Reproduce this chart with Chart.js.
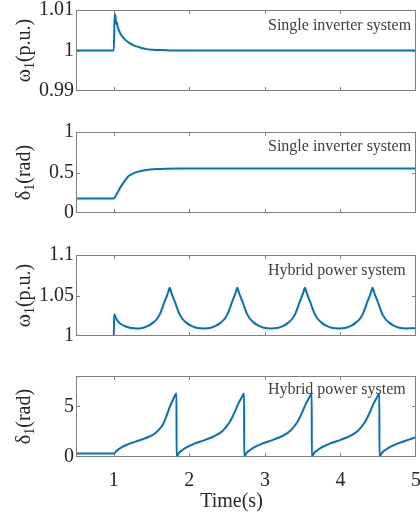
<!DOCTYPE html>
<html>
<head>
<meta charset="utf-8">
<script src="https://cdn.jsdelivr.net/npm/chart.js@4/dist/chart.umd.min.js"></script>
<style>
  html, body { margin: 0; padding: 0; background: #ffffff; }
  #wrap { position: relative; width: 420px; height: 518px; background: #ffffff; }
  #wrap canvas { position: absolute; left: 0; top: 0; }
</style>
</head>
<body>
<div id="wrap">
  <canvas id="c1" width="420" height="518"></canvas>
  <canvas id="c2" width="420" height="518"></canvas>
  <canvas id="c3" width="420" height="518"></canvas>
  <canvas id="c4" width="420" height="518"></canvas>
</div>
<script>
// ---------------- data ----------------
const xTicks = [1, 2, 3, 4, 5];
const xTickLabels = ['1', '2', '3', '4', '5'];

// Panel 1: single inverter system, omega_1 (p.u.)
const tOmegaSingle = [0.5, 1.0, 1.012, 1.022, 1.03, 1.04, 1.05, 1.07, 1.09, 1.12, 1.16, 1.21, 1.27, 1.34, 1.42, 1.52, 1.65, 1.8, 5.0];
const omegaSingle  = [1.0, 1.0, 1.0090, 1.0085, 1.0066, 1.0070, 1.0060, 1.0049, 1.0041, 1.0033, 1.0025, 1.0018, 1.0012, 1.0008, 1.0004, 1.0002, 1.0001, 1.0, 1.0];
const yTicks1 = [0.99, 1, 1.01];
const yTickLabels1 = ['0.99', '1', '1.01'];

// Panel 2: single inverter system, delta_1 (rad)
const tDeltaSingle = [0.5, 1.0, 1.03, 1.06, 1.09, 1.126, 1.16, 1.19, 1.23, 1.26, 1.31, 1.39, 1.48, 1.57, 1.7, 1.9, 5.0];
const deltaSingle  = [0.18, 0.18, 0.22, 0.27, 0.32, 0.37, 0.415, 0.45, 0.475, 0.49, 0.508, 0.525, 0.536, 0.542, 0.546, 0.548, 0.548];
const yTicks2 = [0, 0.5, 1];
const yTickLabels2 = ['0', '0.5', '1'];

// Panel 3: hybrid power system, omega_1 (p.u.)
const tOmegaHybrid = [
  0.5, 0.995, 1.0, 1.005, 1.02, 1.04, 1.07, 1.1, 1.15, 1.2, 1.27, 1.34,
  1.4, 1.46, 1.52, 1.57, 1.61, 1.64, 1.67, 1.70, 1.72, 1.74, 1.76, 1.78, 1.81, 1.84, 1.87, 1.91, 1.96, 2.02, 2.08, 2.14, 2.19,
  2.235, 2.295, 2.355, 2.415, 2.465, 2.505, 2.535, 2.565, 2.595, 2.615, 2.635, 2.655, 2.675, 2.705, 2.735, 2.765, 2.805, 2.855, 2.915, 2.975, 3.035, 3.08,
  3.13, 3.19, 3.25, 3.31, 3.36, 3.40, 3.43, 3.46, 3.49, 3.51, 3.53, 3.55, 3.57, 3.60, 3.63, 3.66, 3.70, 3.75, 3.81, 3.87, 3.93, 3.975,
  4.025, 4.085, 4.145, 4.205, 4.255, 4.295, 4.325, 4.355, 4.385, 4.405, 4.425, 4.445, 4.465, 4.495, 4.525, 4.555, 4.595, 4.645, 4.705, 4.765, 4.825, 4.87, 4.93, 5.0
];
const omegaHybrid = [
  1.0, 1.0, 1.0, 1.027, 1.024, 1.020, 1.0165, 1.0145, 1.012, 1.0106, 1.0097, 1.0094,
  1.0105, 1.0128, 1.0165, 1.021, 1.027, 1.034, 1.042, 1.049, 1.054, 1.0596, 1.054, 1.049, 1.042, 1.034, 1.027, 1.021, 1.0165, 1.0128, 1.0105, 1.0095, 1.0094,
  1.0095, 1.0105, 1.0128, 1.0165, 1.021, 1.027, 1.034, 1.042, 1.049, 1.054, 1.0596, 1.054, 1.049, 1.042, 1.034, 1.027, 1.021, 1.0165, 1.0128, 1.0105, 1.0095, 1.0094,
  1.0095, 1.0105, 1.0128, 1.0165, 1.021, 1.027, 1.034, 1.042, 1.049, 1.054, 1.0596, 1.054, 1.049, 1.042, 1.034, 1.027, 1.021, 1.0165, 1.0128, 1.0105, 1.0095, 1.0094,
  1.0095, 1.0105, 1.0128, 1.0165, 1.021, 1.027, 1.034, 1.042, 1.049, 1.054, 1.0596, 1.054, 1.049, 1.042, 1.034, 1.027, 1.021, 1.0165, 1.0128, 1.0105, 1.0095, 1.0094, 1.0095, 1.0098
];
const yTicks3 = [1, 1.05, 1.1];
const yTickLabels3 = ['1', '1.05', '1.1'];

// Panel 4: hybrid power system, delta_1 (rad)
const tDeltaHybrid = [
  0.5, 1.0, 1.03, 1.07, 1.12, 1.18, 1.25, 1.32, 1.39, 1.45, 1.51, 1.56, 1.60, 1.65, 1.69, 1.735, 1.78, 1.83,
  1.831, 1.86, 1.90, 1.95, 2.0, 2.07, 2.14, 2.22, 2.30, 2.37, 2.43, 2.48, 2.53, 2.57, 2.61, 2.65, 2.69, 2.725,
  2.726, 2.755, 2.795, 2.845, 2.895, 2.965, 3.035, 3.115, 3.195, 3.265, 3.325, 3.375, 3.425, 3.465, 3.505, 3.545, 3.585, 3.62,
  3.621, 3.65, 3.69, 3.74, 3.79, 3.86, 3.93, 4.01, 4.09, 4.16, 4.22, 4.27, 4.32, 4.36, 4.40, 4.44, 4.48, 4.515,
  4.516, 4.545, 4.585, 4.635, 4.685, 4.755, 4.825, 4.905, 5.0
];
const deltaHybrid = [
  0.35, 0.35, 0.55, 0.8, 1.02, 1.22, 1.42, 1.6, 1.78, 1.95, 2.17, 2.42, 2.72, 3.2, 3.9, 4.83, 5.6, 6.28,
  0, 0.38, 0.65, 0.9, 1.1, 1.32, 1.5, 1.72, 1.95, 2.2, 2.52, 2.9, 3.4, 3.95, 4.6, 5.3, 5.85, 6.28,
  0, 0.38, 0.65, 0.9, 1.1, 1.32, 1.5, 1.72, 1.95, 2.2, 2.52, 2.9, 3.4, 3.95, 4.6, 5.3, 5.85, 6.28,
  0, 0.38, 0.65, 0.9, 1.1, 1.32, 1.5, 1.72, 1.95, 2.2, 2.52, 2.9, 3.4, 3.95, 4.6, 5.3, 5.85, 6.28,
  0, 0.38, 0.65, 0.9, 1.1, 1.32, 1.5, 1.72, 1.95
];
const yTicks4 = [0, 5];
const yTickLabels4 = ['0', '5'];

const notes = ['Single inverter system', 'Single inverter system', 'Hybrid power system', 'Hybrid power system'];
const yTitles = [
  [['ω', false], ['1', true], ['(p.u.)', false]],
  [['δ', false], ['1', true], ['(rad)', false]],
  [['ω', false], ['1', true], ['(p.u.)', false]],
  [['δ', false], ['1', true], ['(rad)', false]]
];
const xTitle = 'Time(s)';

// ---------------- styling / layout ----------------
const FONT = "'Liberation Serif', 'Times New Roman', Times, serif";
const LINE = '#0072BD';
const FRAME = '#808080';
const TEXT = '#262626';
const W = 420, H = 518;
const LEFT = 76, RIGHT_PAD = 4, XAXIS_H = 40;

const panels = [
  { id: 'c1', top: 10, bottom: 91,  t: tOmegaSingle, v: omegaSingle, ymin: 0.99, ymax: 1.01, yt: yTicks1, yl: yTickLabels1, noteY: 30,  showX: false },
  { id: 'c2', top: 132, bottom: 213, t: tDeltaSingle, v: deltaSingle, ymin: 0, ymax: 1, yt: yTicks2, yl: yTickLabels2, noteY: 151, showX: false },
  { id: 'c3', top: 255, bottom: 336, t: tOmegaHybrid, v: omegaHybrid, ymin: 1, ymax: 1.1, yt: yTicks3, yl: yTickLabels3, noteY: 275, showX: false },
  { id: 'c4', top: 376, bottom: 457, t: tDeltaHybrid, v: deltaHybrid, ymin: 0, ymax: 8, yt: yTicks4, yl: yTickLabels4, noteY: 394, showX: true }
];

const framePlugin = {
  id: 'frame',
  afterDraw(chart, args, opts) {
    const ctx = chart.ctx;
    const a = chart.chartArea;
    const x = chart.scales.x, y = chart.scales.y;
    ctx.save();
    ctx.strokeStyle = FRAME;
    ctx.lineWidth = 1;
    ctx.strokeRect(a.left + 0.5, a.top + 0.5, a.right - a.left - 1, a.bottom - a.top - 1);
    ctx.beginPath();
    x.ticks.forEach(tk => {
      const px = Math.round(x.getPixelForValue(tk.value)) + 0.5;
      if (px <= a.left + 2 || px >= a.right - 2) return;
      ctx.moveTo(px, a.bottom); ctx.lineTo(px, a.bottom - 4);
      ctx.moveTo(px, a.top); ctx.lineTo(px, a.top + 4);
    });
    y.ticks.forEach(tk => {
      const py = Math.round(y.getPixelForValue(tk.value)) + 0.5;
      if (py <= a.top + 2 || py >= a.bottom - 2) return;
      ctx.moveTo(a.left, py); ctx.lineTo(a.left + 4, py);
      ctx.moveTo(a.right, py); ctx.lineTo(a.right - 4, py);
    });
    ctx.stroke();

    // annotation text
    ctx.fillStyle = '#404040';
    ctx.font = '16px ' + FONT;
    ctx.textAlign = 'left';
    ctx.textBaseline = 'alphabetic';
    ctx.fillText(opts.note, 268, opts.noteY);

    // rotated y title with subscript
    const parts = opts.ytitle;
    const big = '20px ' + FONT, small = '14px ' + FONT;
    let total = 0;
    const widths = parts.map(p => { ctx.font = p[1] ? small : big; const w = ctx.measureText(p[0]).width; total += w; return w; });
    const cy = (a.top + a.bottom) / 2;
    ctx.translate(30, cy);
    ctx.rotate(-Math.PI / 2);
    ctx.fillStyle = TEXT;
    let cx = -total / 2;
    parts.forEach((p, i) => {
      ctx.font = p[1] ? small : big;
      ctx.fillText(p[0], cx, p[1] ? 4 : 0);
      cx += widths[i];
    });
    ctx.setTransform(1, 0, 0, 1, 0, 0);

    if (opts.xtitle) {
      ctx.font = '20px ' + FONT;
      ctx.textAlign = 'center';
      ctx.fillStyle = TEXT;
      ctx.fillText(opts.xtitle, 231.5, 507);
    }
    ctx.restore();
  }
};

panels.forEach((p, i) => {
  const data = p.t.map((t, k) => ({ x: t, y: p.v[k] }));
  const xh = p.showX ? XAXIS_H : 0;
  new Chart(document.getElementById(p.id), {
    type: 'line',
    data: { datasets: [{ data, borderColor: LINE, borderWidth: 2, pointRadius: 0, fill: false, cubicInterpolationMode: 'monotone' }] },
    options: {
      responsive: false,
      animation: false,
      events: [],
      layout: { padding: { top: p.top, bottom: H - p.bottom - xh, left: 0, right: RIGHT_PAD } },
      plugins: {
        legend: { display: false },
        tooltip: { enabled: false },
        frame: { note: notes[i], noteY: p.noteY, ytitle: yTitles[i], xtitle: p.showX ? xTitle : null }
      },
      scales: {
        x: {
          type: 'linear', min: 0.5, max: 5,
          grid: { display: false, drawTicks: false }, border: { display: false },
          afterBuildTicks: s => { s.ticks = xTicks.map(v => ({ value: v })); },
          afterFit: s => { s.height = xh; s.paddingLeft = 0; s.paddingRight = 0; },
          ticks: {
            display: p.showX, autoSkip: false, maxRotation: 0, padding: 12,
            color: TEXT, font: { family: FONT, size: 20 },
            callback: v => xTickLabels[xTicks.indexOf(v)]
          }
        },
        y: {
          type: 'linear', min: p.ymin, max: p.ymax,
          grid: { display: false, drawTicks: false }, border: { display: false },
          afterBuildTicks: s => { s.ticks = p.yt.map(v => ({ value: v })); },
          afterFit: s => { s.width = LEFT; s.paddingTop = 0; s.paddingBottom = 0; },
          ticks: {
            autoSkip: false, padding: 2,
            color: TEXT, font: { family: FONT, size: 20 },
            callback: v => p.yl[p.yt.indexOf(v)]
          }
        }
      }
    },
    plugins: [framePlugin]
  });
});
</script>
</body>
</html>
